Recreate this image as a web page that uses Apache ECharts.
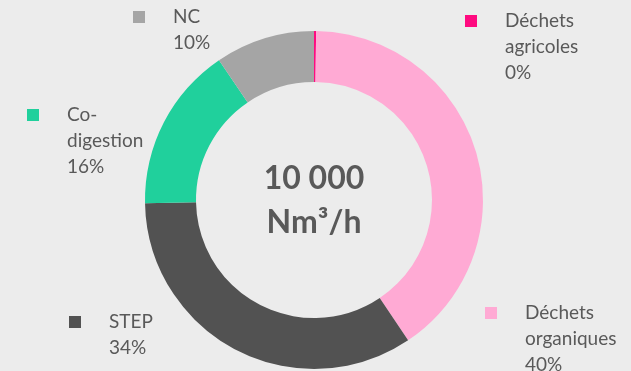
<!DOCTYPE html>
<html>
<head>
<meta charset="utf-8">
<script src="https://cdn.jsdelivr.net/npm/echarts@6/dist/echarts.min.js"></script>
<style>
  html, body { margin: 0; padding: 0; background: #ececec; }
  #chart { width: 631px; height: 371px; }
</style>
</head>
<body>
<div id="chart"></div>
<script>
// Biomethane capacity by feedstock (Nm³/h)
const categories = ['Déchets agricoles', 'Déchets organiques', 'STEP', 'Co-digestion', 'NC'];
const capacity = [20, 4040, 3410, 1580, 950];
const sliceColors = ['#ff0a80', '#ffaad4', '#525252', '#20d09c', '#a5a5a5'];
const unitLabel = 'Nm³/h';

// Where each legend-style label (marker square + text) sits, as [left, top]
const labelAnchors = [[465, 8], [485, 300], [69, 309], [27, 102], [133, 4]];

const total = capacity.reduce((a, b) => a + b, 0);
const totalText = String(total).replace(/\B(?=(\d{3})+(?!\d))/g, ' ');

const textColor = '#595959';
const fontFamily = 'Lato, "Open Sans", sans-serif';

function wrapName(name) {
  return name.split(' ').join('\n').replace(/-(?=\S)/, '-\n');
}

const rich = {
  t: { color: textColor, fontSize: 19, fontFamily: fontFamily, lineHeight: 26 },
  pad: { width: 40, height: 12 }
};
categories.forEach((c, i) => {
  rich['sq' + i] = { backgroundColor: sliceColors[i], width: 12, height: 12 };
  rich['gap' + i] = { width: 28, height: 12 };
});

const chart = echarts.init(document.getElementById('chart'), null, { renderer: 'canvas' });

chart.setOption({
  backgroundColor: '#ececec',
  animation: false,
  series: [{
    type: 'pie',
    center: [314, 200],
    radius: [118, 169],
    startAngle: 90,
    clockwise: true,
    percentPrecision: 0,
    avoidLabelOverlap: false,
    data: categories.map((name, i) => ({
      name: name,
      value: capacity[i],
      itemStyle: { color: sliceColors[i] }
    })),
    itemStyle: { borderWidth: 0 },
    label: {
      show: true,
      position: 'outside',
      formatter: function (p) {
        const i = p.dataIndex;
        const lines = (wrapName(p.name) + '\n' + p.percent + '%').split('\n');
        return lines.map((ln, k) =>
          (k === 0 ? '{sq' + i + '|}{gap' + i + '|}' : '{pad|}') + '{t|' + ln + '}'
        ).join('\n');
      },
      rich: rich
    },
    labelLine: { show: false },
    labelLayout: function (params) {
      const a = labelAnchors[params.dataIndex];
      return { x: a[0], y: a[1], align: 'left', verticalAlign: 'top', hideOverlap: false, moveOverlap: false };
    },
    emphasis: { disabled: true }
  }],
  graphic: [{
    type: 'text',
    x: 314,
    y: 201,
    style: {
      text: totalText + '\n' + unitLabel,
      fill: textColor,
      font: 'bold 32px ' + fontFamily,
      lineHeight: 44,
      align: 'center',
      verticalAlign: 'middle'
    }
  }]
});
</script>
</body>
</html>
